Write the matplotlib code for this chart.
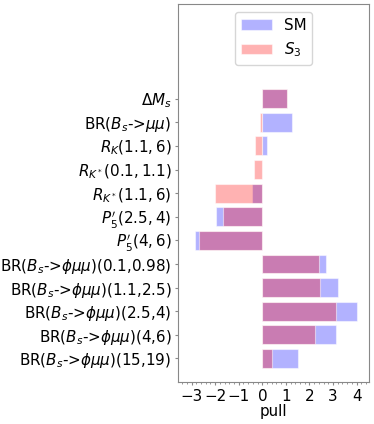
import matplotlib
matplotlib.use("Agg")
import matplotlib.pyplot as plt
import numpy as np
from matplotlib.ticker import AutoMinorLocator

labels = [r"$\Delta M_s$", r"BR($B_s$->$\mu\mu$)", r"$R_K(1.1,6)$",
          r"$R_{K^*}(0.1,1.1)$", r"$R_{K^*}(1.1,6)$", r"$P_5'(2.5,4)$",
          r"$P_5'(4,6)$", r"BR($B_s$->$\phi\mu\mu$)(0.1,0.98)",
          r"BR($B_s$->$\phi\mu\mu$)(1.1,2.5)", r"BR($B_s$->$\phi\mu\mu$)(2.5,4)",
          r"BR($B_s$->$\phi\mu\mu$)(4,6)", r"BR($B_s$->$\phi\mu\mu$)(15,19)"]
pull_sm = [1.05, 1.26, 0.21, 0.0, -0.44, -1.96, -2.86, 2.69, 3.19, 4.01, 3.12, 1.50]
pull_s3 = [1.05, -0.11, -0.31, -0.35, -2.00, -1.67, -2.68, 2.40, 2.44, 3.14, 2.25, 0.42]

fs = 10.9
fig = plt.figure(figsize=(3.74, 4.24), dpi=100)
ax = fig.add_axes([0.477, 0.099, 0.51, 0.891])
y = np.arange(len(labels))[::-1]
ax.barh(y, pull_sm, height=0.8, color=(0, 0, 1, 0.3), edgecolor=(1, 1, 1, 0.5), linewidth=0.8, label="SM")
ax.barh(y, pull_s3, height=0.8, color=(1, 0, 0, 0.3), edgecolor=(1, 1, 1, 0.5), linewidth=0.8, label=r"$S_3$")
ax.set_yticks(y)
ax.set_yticklabels(labels, fontsize=fs)
ax.set_ylim(-1, 15)
ax.set_xlim(-3.56, 4.53)
ax.set_xticks([-3, -2, -1, 0, 1, 2, 3, 4])
ax.tick_params(axis='x', labelsize=fs, color='#888888', width=0.8, length=2.5, pad=2.5)
ax.tick_params(axis='y', color='#888888', length=2, pad=3)
ax.xaxis.set_minor_locator(AutoMinorLocator())
ax.tick_params(axis='x', which='minor', color='#888888', length=1.5)
ax.set_xlabel("pull", fontsize=fs, labelpad=0)
for s in ax.spines.values():
    s.set_color('#888888')
ax.legend(loc='upper center', fontsize=fs, handlelength=2)
fig.savefig("out.png", dpi=100)
